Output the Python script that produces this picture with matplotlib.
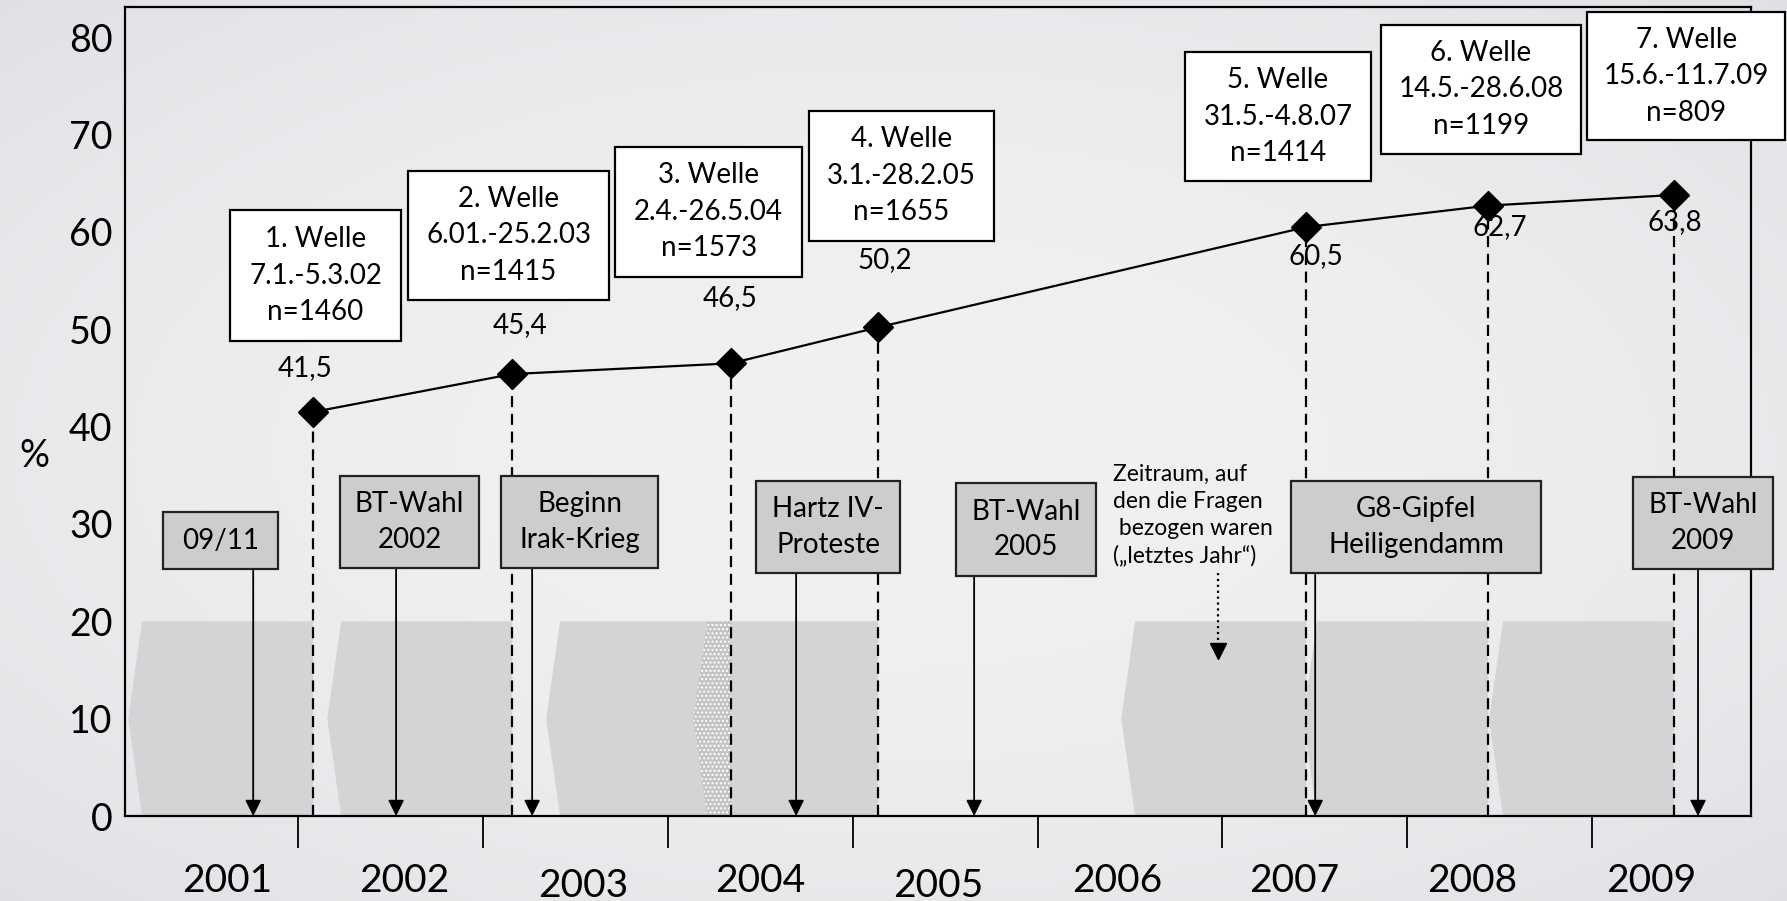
import numpy as np
import matplotlib.pyplot as plt
from matplotlib.patches import Polygon, Rectangle
from matplotlib.transforms import blended_transform_factory

plt.rcParams['font.family'] = ['Lato', 'DejaVu Sans']

# survey waves: middle of field period (decimal year) and share in %
wave_x = [2002.081, 2003.158, 2004.342, 2005.138, 2007.453, 2008.437, 2009.443]
wave_pct = [41.5, 45.4, 46.5, 50.2, 60.5, 62.7, 63.8]
wave_names = ['1. Welle', '2. Welle', '3. Welle', '4. Welle', '5. Welle', '6. Welle', '7. Welle']
wave_periods = ['7.1.-5.3.02', '6.01.-25.2.03', '2.4.-26.5.04', '3.1.-28.2.05',
                '31.5.-4.8.07', '14.5.-28.6.08', '15.6.-11.7.09']
wave_n = [1460, 1415, 1573, 1655, 1414, 1199, 809]

# events on the time line
event_labels = ['09/11', 'BT-Wahl\n2002', 'Beginn\nIrak-Krieg', 'Hartz IV-\nProteste',
                'BT-Wahl\n2005', 'G8-Gipfel\nHeiligendamm', 'BT-Wahl\n2009']
event_x = [2001.757, 2002.530, 2003.266, 2004.694, 2005.657, 2007.502, 2009.573]

years = list(range(2001, 2010))
year_ticks = list(range(2002, 2010))

# layout: boxes as (x0, x1, y0, y1) in data units
wave_boxes = [(2001.632, 2002.557, 48.8, 62.2), (2002.595, 2003.682, 53.0, 66.3),
              (2003.715, 2004.726, 55.4, 68.7), (2004.764, 2005.765, 59.1, 72.4),
              (2006.798, 2007.804, 65.2, 78.5), (2007.858, 2008.940, 68.0, 81.3),
              (2008.973, 2010.045, 69.4, 82.6)]
value_label_pos = [(2002.038, 46.0), (2003.201, 50.4), (2004.337, 53.2), (2005.175, 57.1),
                   (2007.507, 57.5), (2008.499, 60.5), (2009.449, 61.0)]
event_boxes = [(2001.270, 2001.892, 25.4, 31.2), (2002.227, 2002.979, 25.5, 34.9),
               (2003.098, 2003.947, 25.5, 34.9), (2004.478, 2005.257, 25.0, 34.4),
               (2005.559, 2006.317, 24.7, 34.2), (2007.372, 2008.724, 25.0, 34.4),
               (2009.222, 2009.979, 25.4, 34.8)]
year_label_x = [2001.616, 2002.573, 2003.542, 2004.499, 2005.462, 2006.430, 2007.388, 2008.351, 2009.319]
year_label_y = [-0.080, -0.080, -0.086, -0.080, -0.086, -0.080, -0.080, -0.080, -0.080]

period_height = 20
notch = 0.075
shade = '#d4d4d6'

fig = plt.figure(figsize=(17.87, 9.01), dpi=100)

# soft vignette background
bg = fig.add_axes([0, 0, 1, 1], zorder=-10)
yy, xx = np.mgrid[-1:1:300j, -1:1:600j]
t = np.clip(np.sqrt(xx ** 2 + yy ** 2) / 1.45, 0, 1) ** 2
center = np.array([0.945, 0.945, 0.953])
edge = np.array([0.875, 0.878, 0.892])
bg.imshow(center * (1 - t[..., None]) + edge * t[..., None], aspect='auto', extent=(0, 1, 0, 1))
bg.axis('off')

ax = fig.add_axes([0.0700, 0.0943, 0.9099, 0.8979])
ax.patch.set_visible(False)
ax.set_xlim(2001.064, 2009.86)
ax.set_ylim(0, 83.1)

# "letztes Jahr" reference periods before each wave
for w in wave_x:
    s = w - 1
    pts = [(s + notch, period_height), (s, period_height / 2), (s + notch, 0), (w, 0), (w, period_height)]
    ax.add_patch(Polygon(pts, closed=True, facecolor=shade, edgecolor='none', zorder=1))

# overlapping periods get a dotted fill
for prev, nxt in zip(wave_x[:-1], wave_x[1:]):
    s = nxt - 1
    if s + notch < prev:
        pts = [(s + notch, period_height), (s, period_height / 2), (s + notch, 0), (prev, 0), (prev, period_height)]
        ax.add_patch(Polygon(pts, closed=True, facecolor='#c4c4c4', edgecolor='white',
                             hatch='....', lw=0, zorder=1.5))

ax.vlines(wave_x, 0, wave_pct, colors='black', linestyles=(0, (5, 3)), lw=1.6, zorder=3)
ax.plot(wave_x, wave_pct, color='black', lw=1.6, marker='D', ms=15, zorder=4)

for (lx, ly), v in zip(value_label_pos, wave_pct):
    ax.text(lx, ly, f'{v:.1f}'.replace('.', ','), ha='center', va='center', fontsize=20, zorder=8)

for (x0, x1, y0, y1), name, period, n in zip(wave_boxes, wave_names, wave_periods, wave_n):
    ax.add_patch(Rectangle((x0, y0), x1 - x0, y1 - y0, facecolor='white', edgecolor='black',
                           lw=1.6, zorder=7, clip_on=False))
    ax.text((x0 + x1) / 2, (y0 + y1) / 2, f'{name}\n{period}\nn={n}', ha='center', va='center',
            fontsize=20, linespacing=1.5, zorder=8, clip_on=False)

for (x0, x1, y0, y1), label, ex in zip(event_boxes, event_labels, event_x):
    ax.add_patch(Rectangle((x0, y0), x1 - x0, y1 - y0, facecolor='#cdcdcd', edgecolor='#222222',
                           lw=1.6, zorder=6, clip_on=False))
    ax.text((x0 + x1) / 2, (y0 + y1) / 2, label, ha='center', va='center',
            fontsize=20, linespacing=1.45, zorder=8, clip_on=False)
    ax.annotate('', xy=(ex, 0), xytext=(ex, y0),
                arrowprops=dict(arrowstyle='-|>', color='black', lw=1.3, mutation_scale=24,
                                shrinkA=0, shrinkB=0), zorder=5)

# note on the reference period
ax.text(2006.409, 30.9, 'Zeitraum, auf\nden die Fragen\n bezogen waren\n(\u201eletztes Jahr\u201c)',
        ha='left', va='center', fontsize=16.5, linespacing=1.35, zorder=8)
ax.plot([2006.977, 2006.977], [25.0, 17.2], color='black', lw=1.6, linestyle=':', zorder=5)
ax.plot([2006.977], [17.0], marker='v', color='black', ms=11, zorder=5)

for sp in ax.spines.values():
    sp.set_linewidth(1.6)
    sp.set_color('black')

ax.set_yticks(range(0, 81, 10))
ax.tick_params(axis='y', length=0, pad=9, labelsize=27)
ax.set_xticks(year_ticks)
ax.set_xticklabels([])
ax.tick_params(axis='x', length=23, width=1.3, direction='out', color='black')

trans = blended_transform_factory(ax.transData, ax.transAxes)
for x, y, yr in zip(year_label_x, year_label_y, years):
    ax.text(x, y, str(yr), transform=trans, ha='center', va='center', fontsize=28)

fig.text(0.019, 0.494, '%', ha='center', va='center', fontsize=27)

fig.savefig('out.png', dpi=100)
